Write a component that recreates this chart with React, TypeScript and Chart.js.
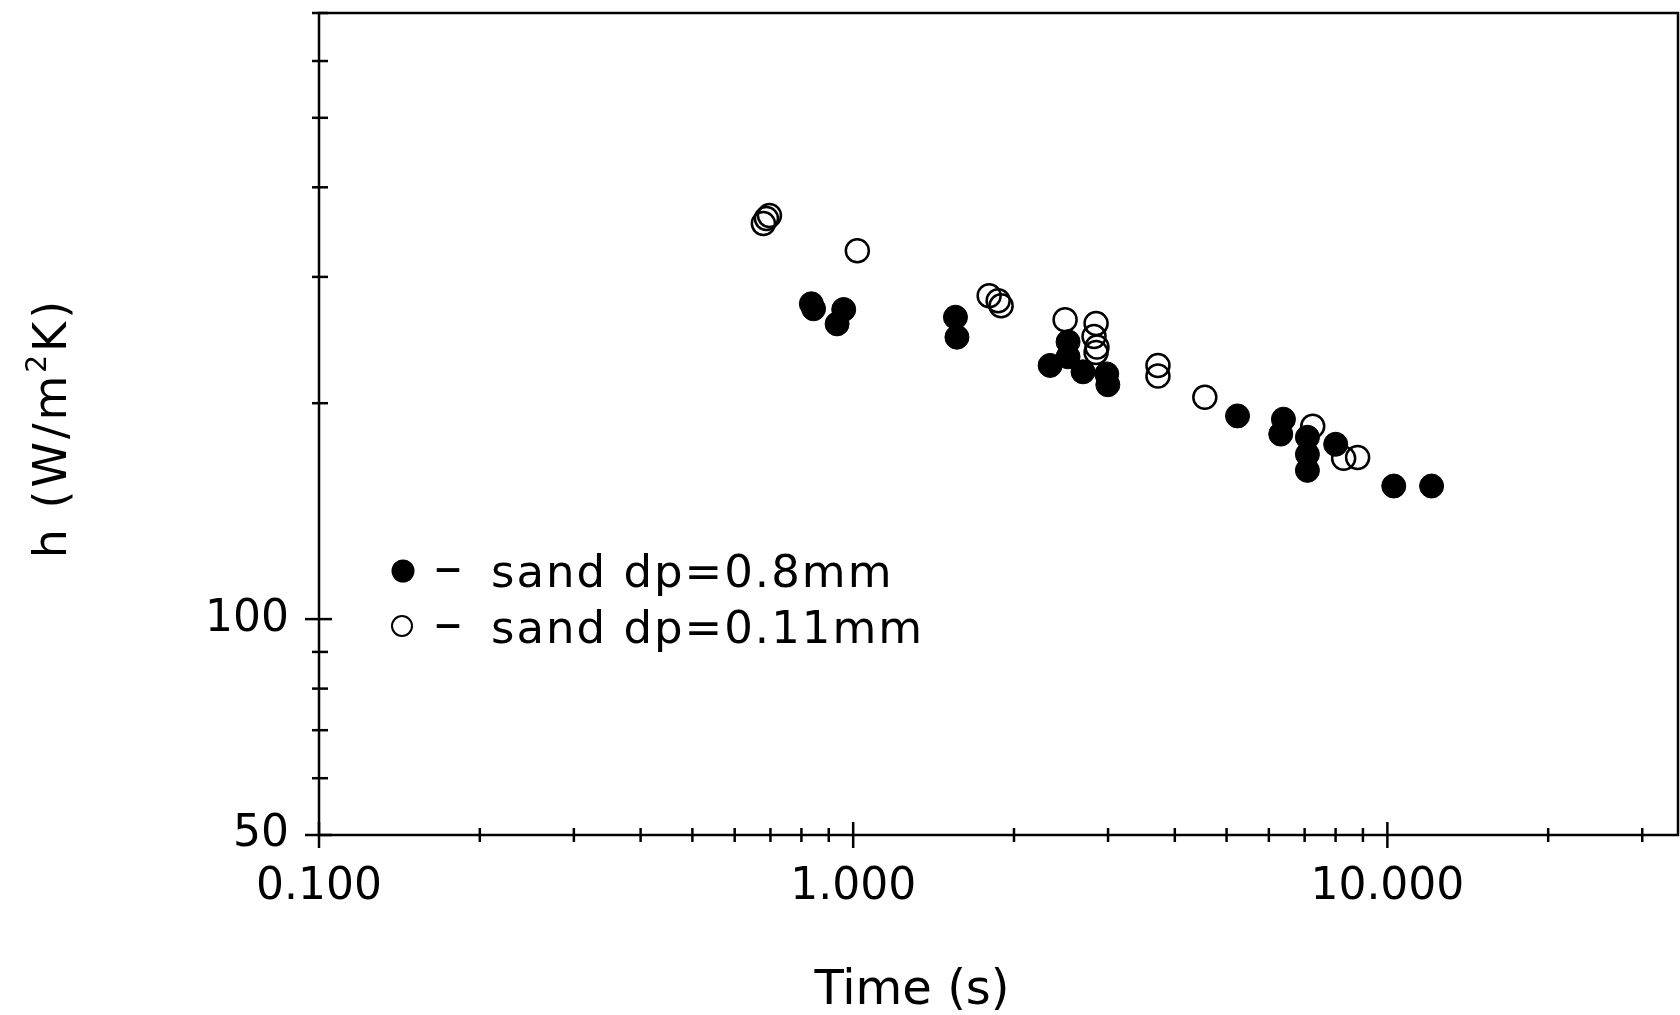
import { useEffect, useRef } from "react";
import { Chart, registerables } from "chart.js";

Chart.register(...registerables);

// ---- data ----
const filledTime = [0.835, 0.843, 0.96, 0.933, 1.554, 1.564, 2.337, 2.525, 2.525, 2.693, 2.983, 2.997, 5.242, 6.389, 6.315, 7.085, 7.085, 7.085, 8.003, 10.28, 12.1];
const filledH = [275.2, 270.8, 270.2, 258.0, 263.6, 247.2, 225.8, 243.6, 232.1, 221.2, 219.7, 212.2, 192.0, 190.0, 181.1, 179.3, 169.7, 161.2, 175.3, 153.3, 153.3];

const openTime = [0.679, 0.688, 0.697, 1.018, 1.797, 1.868, 1.892, 2.493, 2.849, 2.824, 2.86, 2.849, 3.72, 3.72, 4.553, 7.249, 8.282, 8.796];
const openH = [356.0, 361.8, 365.3, 326.2, 282.4, 277.9, 273.4, 261.4, 258.4, 247.8, 239.6, 235.3, 225.7, 218.2, 203.8, 185.8, 167.6, 168.0];

const seriesLabels = ["sand dp=0.8mm", "sand dp=0.11mm"];

const xTickValues = [0.1, 0.2, 0.3, 0.4, 0.5, 0.6, 0.7, 0.8, 0.9, 1, 2, 3, 4, 5, 6, 7, 8, 9, 10, 20, 30];
const xLabelValues = [0.1, 1, 10];
const xLabelTexts = ["0.100", "1.000", "10.000"];

const yTickValues = [50, 60, 70, 80, 90, 100, 200, 300, 400, 500, 600, 700];
const yLabelValues = [50, 100];
const yLabelTexts = ["50", "100"];

const xTitle = "Time (s)";
const yTitleParts = ["h (W/m", "2", "K)"];

const FONT = "DejaVu Sans";
const TARGET_RIGHT = 1678;

const zeroPad = (scale: any) => {
  scale.paddingLeft = 0;
  scale.paddingRight = 0;
  scale.paddingTop = 0;
  scale.paddingBottom = 0;
  scale.getPadding = () => ({ left: 0, top: 0, right: 0, bottom: 0 });
};

export default function App() {
  const ref = useRef<HTMLCanvasElement>(null);

  useEffect(() => {
    const canvas = ref.current;
    if (!canvas) return;

    const framePlugin = {
      id: "frameAndText",
      beforeDatasetsDraw(chart: any) {
        const { ctx, chartArea: a, scales } = chart;
        const xs = scales.x;
        const ys = scales.y;
        ctx.save();
        ctx.strokeStyle = "#000";
        ctx.lineWidth = 2.5;
        ctx.strokeRect(a.left, a.top, a.right - a.left, a.bottom - a.top);
        for (const v of xTickValues) {
          const px = xs.getPixelForValue(v);
          const major = xLabelValues.includes(v);
          const len = major ? 13 : 7;
          ctx.beginPath();
          ctx.moveTo(px, a.bottom - len);
          ctx.lineTo(px, a.bottom + len);
          ctx.stroke();
        }
        for (const v of yTickValues) {
          const py = ys.getPixelForValue(v);
          const major = yLabelValues.includes(v);
          ctx.beginPath();
          ctx.moveTo(a.left - (major ? 14 : 7), py);
          ctx.lineTo(a.left + (major ? 13 : 9), py);
          ctx.stroke();
        }
        ctx.restore();
      },
      afterDraw(chart: any) {
        const { ctx } = chart;
        ctx.save();
        ctx.fillStyle = "#000";
        ctx.strokeStyle = "#000";

        // legend
        const legendRows = [
          { y: 571, base: 587, filled: true, label: seriesLabels[0] },
          { y: 626, base: 643, filled: false, label: seriesLabels[1] },
        ];
        for (const r of legendRows) {
          ctx.beginPath();
          if (r.filled) {
            ctx.arc(403, r.y, 11.5, 0, Math.PI * 2);
            ctx.fill();
          } else {
            ctx.lineWidth = 2;
            ctx.arc(402, r.y, 10, 0, Math.PI * 2);
            ctx.stroke();
          }
          ctx.textAlign = "left";
          ctx.textBaseline = "alphabetic";
          (ctx as any).letterSpacing = "0px";
          ctx.font = `56px "${FONT}"`;
          ctx.fillText("\u2013", 434, r.base - 2);
          ctx.font = `45px "${FONT}"`;
          (ctx as any).letterSpacing = "2px";
          ctx.fillText(r.label, 491, r.base);
        }

        // x title
        (ctx as any).letterSpacing = "0px";
        ctx.font = `48px "${FONT}"`;
        ctx.textAlign = "center";
        ctx.textBaseline = "alphabetic";
        ctx.fillText(xTitle, 912, 1004);

        // y title (rotated, with superscript)
        ctx.translate(66, 428);
        ctx.rotate(-Math.PI / 2);
        (ctx as any).letterSpacing = "3px";
        ctx.textAlign = "left";
        const mainFont = `46px "${FONT}"`;
        const supFont = `28px "${FONT}"`;
        ctx.font = mainFont;
        const w0 = ctx.measureText(yTitleParts[0]).width;
        const w2 = ctx.measureText(yTitleParts[2]).width;
        ctx.font = supFont;
        const w1 = ctx.measureText(yTitleParts[1]).width;
        let cx = -(w0 + w1 + w2) / 2;
        ctx.font = mainFont;
        ctx.fillText(yTitleParts[0], cx, 0);
        cx += w0;
        ctx.font = supFont;
        ctx.fillText(yTitleParts[1], cx, -20);
        cx += w1;
        ctx.font = mainFont;
        ctx.fillText(yTitleParts[2], cx, 0);
        ctx.restore();
      },
    };

    const chart: any = new Chart(canvas, {
      type: "scatter",
      data: {
        datasets: [
          {
            label: seriesLabels[1],
            data: openTime.map((t, i) => ({ x: t, y: openH[i] })),
            pointStyle: "circle",
            pointRadius: 11.5,
            pointBorderWidth: 2.5,
            backgroundColor: "rgba(0,0,0,0)",
            borderColor: "#000",
            order: 1,
          },
          {
            label: seriesLabels[0],
            data: filledTime.map((t, i) => ({ x: t, y: filledH[i] })),
            pointStyle: "circle",
            pointRadius: 12,
            pointBorderWidth: 1,
            backgroundColor: "#000",
            borderColor: "#000",
            order: 2,
          },
        ],
      },
      options: {
        animation: false,
        responsive: false,
        devicePixelRatio: 1,
        layout: { autoPadding: false, padding: { left: 0, right: 2, top: 13, bottom: 0 } },
        plugins: {
          legend: { display: false },
          tooltip: { enabled: false },
        },
        scales: {
          x: {
            type: "logarithmic",
            min: 0.1,
            max: 35,
            grid: { display: false, drawTicks: false },
            border: { display: false },
            afterBuildTicks: (scale: any) => {
              scale.ticks = xTickValues.map((v) => ({ value: v }));
            },
            afterFit: (scale: any) => {
              scale.height = 180;
              zeroPad(scale);
            },
            ticks: {
              autoSkip: false,
              maxRotation: 0,
              minRotation: 0,
              padding: 26,
              color: "#000",
              font: { family: FONT, size: 44 },
              callback: (value: any) => {
                const i = xLabelValues.findIndex((v) => Math.abs(v - Number(value)) < 1e-9);
                return i >= 0 ? xLabelTexts[i] : "";
              },
            },
          },
          y: {
            type: "logarithmic",
            min: 50,
            max: 700,
            grid: { display: false, drawTicks: false },
            border: { display: false },
            afterBuildTicks: (scale: any) => {
              scale.ticks = yTickValues.map((v) => ({ value: v }));
            },
            afterFit: (scale: any) => {
              scale.width = 319;
              zeroPad(scale);
            },
            ticks: {
              autoSkip: false,
              padding: 30,
              color: "#000",
              font: { family: FONT, size: 44 },
              callback: (value: any) => {
                const i = yLabelValues.findIndex((v) => Math.abs(v - Number(value)) < 1e-9);
                return i >= 0 ? yLabelTexts[i] : "";
              },
            },
          },
        },
      },
      plugins: [framePlugin],
    } as any);

    // Make the plot frame reach the reference's right edge.
    for (let k = 0; k < 3; k++) {
      const diff = TARGET_RIGHT - chart.chartArea.right;
      if (Math.abs(diff) < 0.5) break;
      chart.options.layout.padding.right -= diff;
      chart.update();
    }

    return () => chart.destroy();
  }, []);

  return (
    <div style={{ position: "absolute", left: 0, top: 0, width: 1680, height: 1015, background: "#fff" }}>
      <canvas ref={ref} width={1680} height={1015} style={{ display: "block", width: 1680, height: 1015 }} />
    </div>
  );
}
